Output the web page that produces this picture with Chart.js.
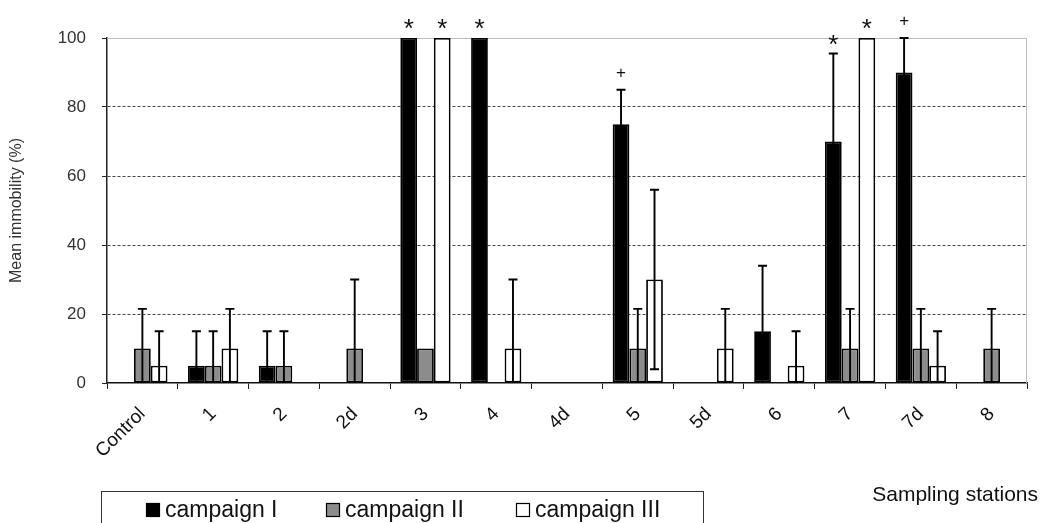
<!DOCTYPE html>
<html><head><meta charset="utf-8">
<script src="https://cdn.jsdelivr.net/npm/chart.js@4.4.1/dist/chart.umd.min.js"></script>
<style>html,body{margin:0;padding:0;background:#fff}#wrap{width:1041px;height:523px;position:relative}</style>
</head><body><div id="wrap"><canvas id="c" width="1041" height="523"></canvas></div>
<script>
const stations = ['Control','1','2','2d','3','4','4d','5','5d','6','7','7d','8'];
const campaignI   = [0, 5, 5, 0, 100, 100, 0, 75, 0, 15, 70, 90, 0];
const campaignII  = [10, 5, 5, 10, 10, 0, 0, 10, 0, 0, 10, 10, 10];
const campaignIII = [5, 10, 0, 0, 100, 10, 0, 30, 10, 5, 100, 5, 0];
const errI   = [0, 10, 10, 0, 0, 0, 0, 10, 0, 19, 25.5, 10, 0];
const errII  = [11.5, 10, 10, 20, 0, 0, 0, 11.5, 0, 0, 11.5, 11.5, 11.5];
const errIII = [10, 11.5, 0, 0, 0, 20, 0, 26, 11.5, 10, 0, 10, 0];
const markI   = ['', '', '', '', '*', '*', '', '+', '', '', '*', '+', ''];
const markII  = ['', '', '', '', '', '', '', '', '', '', '', '', ''];
const markIII = ['', '', '', '', '*', '', '', '', '', '', '*', '', ''];
const yTicks = [0, 20, 40, 60, 80, 100];
const seriesNames = ['campaign I', 'campaign II', 'campaign III'];

const FONT = '"Liberation Sans", Arial, sans-serif';
const fills = ['#000000', '#8c8c8c', '#ffffff'];
const errs = [errI, errII, errIII];
const marks = [markI, markII, markIII];

const extras = {
  id: 'extras',
  beforeDatasetsDraw(chart) {
    const ctx = chart.ctx, a = chart.chartArea;
    ctx.save();
    ctx.strokeStyle = '#bdbdbd'; ctx.lineWidth = 1;
    ctx.beginPath();
    ctx.moveTo(a.left, Math.round(a.top) + 0.5); ctx.lineTo(a.right, Math.round(a.top) + 0.5);
    ctx.moveTo(Math.round(a.right) - 0.5, a.top); ctx.lineTo(Math.round(a.right) - 0.5, a.bottom);
    ctx.stroke();
    ctx.restore();
  },
  afterDatasetsDraw(chart) {
    const ctx = chart.ctx, y = chart.scales.y;
    ctx.save();
    ctx.strokeStyle = '#000'; ctx.lineWidth = 1.9;
    chart.data.datasets.forEach((ds, di) => {
      const meta = chart.getDatasetMeta(di);
      meta.data.forEach((bar, i) => {
        const v = ds.data[i], e = errs[di][i];
        if (!e) return;
        const x = bar.x;
        const yTop = y.getPixelForValue(Math.min(v + e, 100));
        const lo = v - e;
        const yBot = y.getPixelForValue(Math.max(lo, 0));
        ctx.beginPath();
        ctx.moveTo(x, yBot); ctx.lineTo(x, yTop);
        ctx.moveTo(x - 4.5, yTop); ctx.lineTo(x + 4.5, yTop);
        if (lo > 0) { ctx.moveTo(x - 4.5, yBot); ctx.lineTo(x + 4.5, yBot); }
        ctx.stroke();
      });
    });
    ctx.fillStyle = '#111';
    ctx.textAlign = 'center'; ctx.textBaseline = 'alphabetic';
    chart.data.datasets.forEach((ds, di) => {
      const meta = chart.getDatasetMeta(di);
      meta.data.forEach((bar, i) => {
        const m = marks[di][i];
        if (!m) return;
        const v = ds.data[i] + errs[di][i];
        const top = y.getPixelForValue(Math.min(v, 100));
        if (m === '*') {
          ctx.font = '26px ' + FONT;
          ctx.fillText(m, bar.x, top - 1);
        } else {
          ctx.font = '17px ' + FONT;
          ctx.fillText(m, bar.x, top - 12);
        }
      });
    });
    ctx.restore();
  },
  afterDraw(chart) {
    const ctx = chart.ctx;
    ctx.save();
    ctx.fillStyle = '#111';
    ctx.font = '21px ' + FONT;
    ctx.textAlign = 'right'; ctx.textBaseline = 'alphabetic';
    ctx.fillText('Sampling stations', 1038, 501);
    // legend
    ctx.strokeStyle = '#333'; ctx.lineWidth = 1;
    ctx.strokeRect(101.5, 491.5, 602, 60);
    const xs = [146, 326, 516];
    ctx.font = '23px ' + FONT;
    ctx.textAlign = 'left';
    xs.forEach((x, k) => {
      ctx.fillStyle = fills[k];
      ctx.fillRect(x, 503, 14, 14);
      ctx.strokeStyle = '#000'; ctx.lineWidth = 1.2;
      ctx.strokeRect(x + 0.5, 503.5, 13, 13);
      ctx.fillStyle = '#111';
      ctx.fillText(seriesNames[k], x + 19, 517);
    });
    ctx.restore();
  }
};

new Chart(document.getElementById('c'), {
  type: 'bar',
  data: {
    labels: stations,
    datasets: [campaignI, campaignII, campaignIII].map((d, k) => ({
      label: seriesNames[k],
      data: d,
      backgroundColor: fills[k],
      borderColor: '#000',
      borderWidth: c => c.raw ? 1.8 : 0,
      borderSkipped: false,
      categoryPercentage: 0.71,
      barPercentage: 1.0
    }))
  },
  options: {
    responsive: false,
    animation: false,
    devicePixelRatio: 1,
    layout: { padding: { top: 38, right: 14, left: 0, bottom: 0 } },
    plugins: { legend: { display: false }, tooltip: { enabled: false } },
    scales: {
      x: {
        ticks: { color: '#111', font: { size: 19, family: FONT }, maxRotation: 45, minRotation: 45, padding: 14, autoSkip: false },
        grid: { offset: true, drawOnChartArea: false, tickLength: 6, color: '#222' },
        border: { color: '#111', width: 1.5 },
        afterFit: s => { s.height = 140; }
      },
      y: {
        min: 0, max: 100,
        afterBuildTicks: s => { s.ticks = yTicks.map(v => ({ value: v })); },
        ticks: { color: '#333', font: { size: 17, family: FONT }, padding: 16 },
        grid: {
          color: c => (c.tick && (c.tick.value === 0 || c.tick.value === 100)) ? 'rgba(0,0,0,0)' : '#444',
          tickColor: '#222', tickLength: 5, lineWidth: 1
        },
        border: { color: '#222', width: 1.5, dash: [3, 2] },
        title: { display: true, text: 'Mean immobility (%)', color: '#333', font: { size: 16, family: FONT }, padding: { top: 7, bottom: 2 } },
        afterFit: s => { s.width = 107; }
      }
    }
  },
  plugins: [extras]
});
</script>
</body></html>
